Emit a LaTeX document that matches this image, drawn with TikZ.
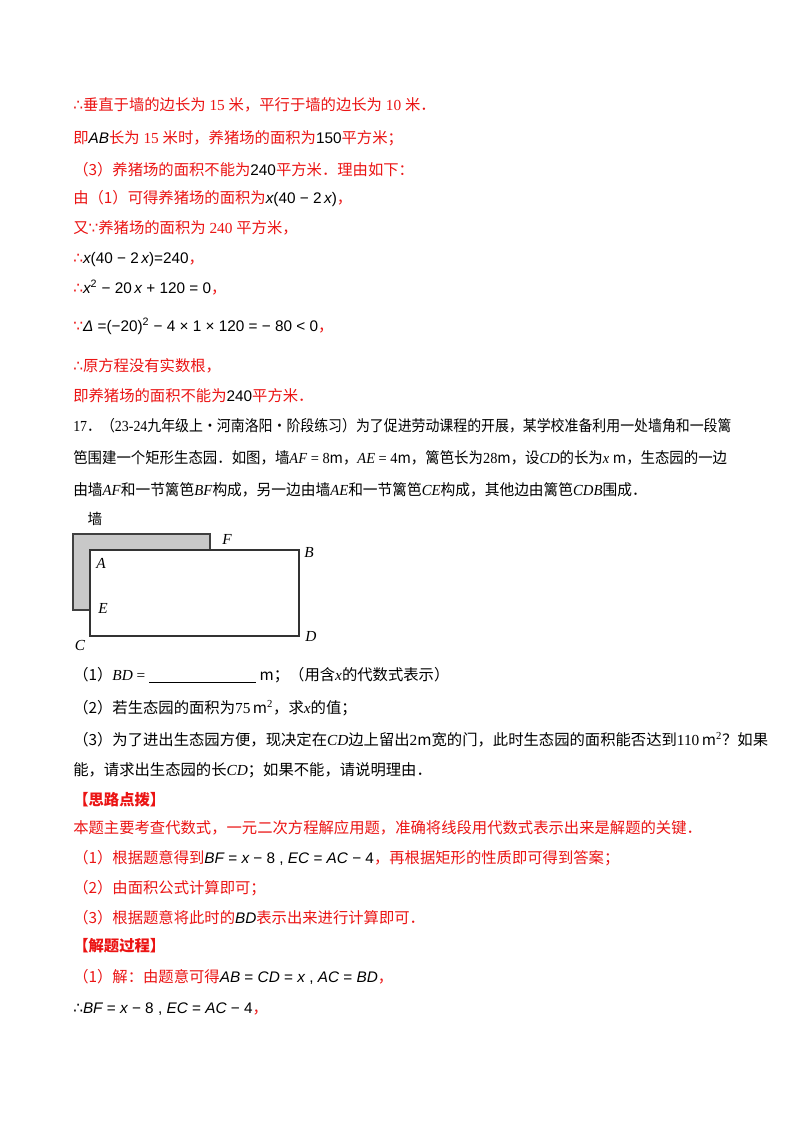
\documentclass[tikz,border=0pt]{standalone}
\usepackage{fontspec}
\usepackage{graphicx}
\setmainfont{Liberation Serif}
\newfontfamily\cjk{Noto Sans CJK SC}
\newfontfamily\symf{DejaVu Sans}
\newfontfamily\msans{Liberation Sans}
\definecolor{myred}{RGB}{235,20,20}
\definecolor{wallgray}{RGB}{200,200,200}
\newcommand\zh[1]{{\cjk #1}}
\newcommand\sy[1]{{\symf #1}}
\newcommand\mi[1]{\textcolor{black}{{\msans\itshape #1}}}
\newcommand\mn[1]{\textcolor{black}{{\msans #1}}}
\newcommand\ti[1]{\textit{#1}}
\begin{document}
\begin{tikzpicture}[x=0.75pt,y=-0.75pt,
  ln/.style={anchor=base west,inner sep=0pt,font=\fontsize{11.5}{14}\selectfont},
  rl/.style={ln,text=myred},
  bl/.style={ln,text=black},
  lab/.style={inner sep=0pt,font=\fontsize{11.5}{14}\selectfont\itshape}]
\fill[white] (0,0) rectangle (800,1132);
\useasboundingbox (0,0) rectangle (800,1132);
% solution part (2)-(3)
\node[rl] (l1) at (73,110) {\sy{∴}\zh{垂直于墙的边长为} 15 \zh{米，平行于墙的边长为} 10 \zh{米．}};
\node[rl] (l2) at (73,143) {\zh{即}\mi{AB}\zh{长为} 15 \zh{米时，养猪场的面积为}\mn{150}\zh{平方米；}};
\node[rl] (l3) at (73,175) {\zh{（3）养猪场的面积不能为}\mn{240}\zh{平方米．理由如下：}};
\node[rl] (l4) at (73,203) {\zh{由（1）可得养猪场的面积为}\mi{x}\mn{(40 − 2\,}\mi{x}\mn{)}\zh{，}};
\node[rl] (l5) at (73,233) {\zh{又}\sy{∵}\zh{养猪场的面积为} 240 \zh{平方米，}};
\node[rl] (l6) at (73,263) {\sy{∴}\mi{x}\mn{(40 − 2\,}\mi{x}\mn{)=240}\zh{，}};
\node[rl] (l7) at (73,293) {\sy{∴}\mi{x}\mn{\textsuperscript{2} − 20\,}\mi{x}\mn{ + 120 = 0}\zh{，}};
\node[rl] (l8) at (73,331) {\sy{∵}\mi{Δ}\mn{ =(−20)\textsuperscript{2} − 4 × 1 × 120 = − 80 < 0}\zh{，}};
\node[rl] (l9) at (73,371) {\sy{∴}\zh{原方程没有实数根，}};
\node[rl] (l10) at (73,401) {\zh{即养猪场的面积不能为}\mn{240}\zh{平方米．}};
% problem 17
\node[bl] (l11) at (73,431) {\scalebox{0.907}[1]{17\zh{．（}23-24\zh{九年级上·河南洛阳·阶段练习）为了促进劳动课程的开展，某学校准备利用一处墙角和一段篱}}};
\node[bl] (l12) at (73,463) {\scalebox{0.94}[1]{\zh{笆围建一个矩形生态园．如图，墙}\ti{AF} = 8\zh{m，}\ti{AE} = 4\zh{m，篱笆长为}28\zh{m，设}\ti{CD}\zh{的长为}\ti{x} \zh{m，生态园的一边}}};
\node[bl] (l13) at (73,495) {\scalebox{0.96}[1]{\zh{由墙}\ti{AF}\zh{和一节篱笆}\ti{BF}\zh{构成，另一边由墙}\ti{AE}\zh{和一节篱笆}\ti{CE}\zh{构成，其他边由篱笆}\ti{CDB}\zh{围成．}}};
% diagram
\fill[wallgray,draw=black!75,line width=0.8pt] (73,534) -- (210,534) -- (210,550) -- (90,550) -- (90,610) -- (73,610) -- cycle;
\coordinate (pA) at (90,550);
\coordinate (pD) at (299,636);
\draw[black!80,line width=0.8pt,fill=white] (pA) rectangle (pD);
\node[inner sep=0pt,font=\fontsize{11}{13}\selectfont] (wall) at (95,519) {\zh{墙}};
\node[lab] (F) at (227,539) {F};
\node[lab] (B) at (309,552) {B};
\node[lab] (A) at (101,563) {A};
\node[lab] (E) at (103,608) {E};
\node[lab] (C) at (80,645) {C};
\node[lab] (D) at (311,636) {D};
% questions
\node[bl] (q1) at (73,680) {\zh{（1）}\ti{BD} = \underline{\hspace{80pt}}\ \zh{m；（用含}\ti{x}\zh{的代数式表示）}};
\node[bl] (q2) at (73,713) {\zh{（2）若生态园的面积为}75\,\zh{m}\textsuperscript{2}\zh{，求}\ti{x}\zh{的值；}};
\node[bl] (q3) at (73,745) {\zh{（3）为了进出生态园方便，现决定在}\ti{CD}\zh{边上留出}2\zh{m宽的门，此时生态园的面积能否达到}110\,\zh{m}\textsuperscript{2}\zh{？如果}};
\node[bl] (q4) at (73,775) {\zh{能，请求出生态园的长}\ti{CD}\zh{；如果不能，请说明理由．}};
% analysis
\node[rl] (h1) at (73,805) {{\cjk\bfseries 【思路点拨】}};
\node[rl] (h2) at (73,833) {\zh{本题主要考查代数式，一元二次方程解应用题，准确将线段用代数式表示出来是解题的关键．}};
\node[rl] (h3) at (73,863) {\zh{（1）根据题意得到}\mi{BF}\mn{ = }\mi{x}\mn{ − 8 , }\mi{EC}\mn{ = }\mi{AC}\mn{ − 4}\zh{，再根据矩形的性质即可得到答案；}};
\node[rl] (h4) at (73,893) {\zh{（2）由面积公式计算即可；}};
\node[rl] (h5) at (73,923) {\zh{（3）根据题意将此时的}\mi{BD}\zh{表示出来进行计算即可．}};
\node[rl] (s1) at (73,951) {{\cjk\bfseries 【解题过程】}};
\node[rl] (s2) at (73,982) {\zh{（1）解：由题意可得}\mi{AB}\mn{ = }\mi{CD}\mn{ = }\mi{x}\mn{ , }\mi{AC}\mn{ = }\mi{BD}\zh{，}};
\node[rl] (s3) at (73,1013) {\textcolor{black}{\sy{∴}}\mi{BF}\mn{ = }\mi{x}\mn{ − 8 , }\mi{EC}\mn{ = }\mi{AC}\mn{ − 4}\zh{，}};
\end{tikzpicture}
\end{document}
